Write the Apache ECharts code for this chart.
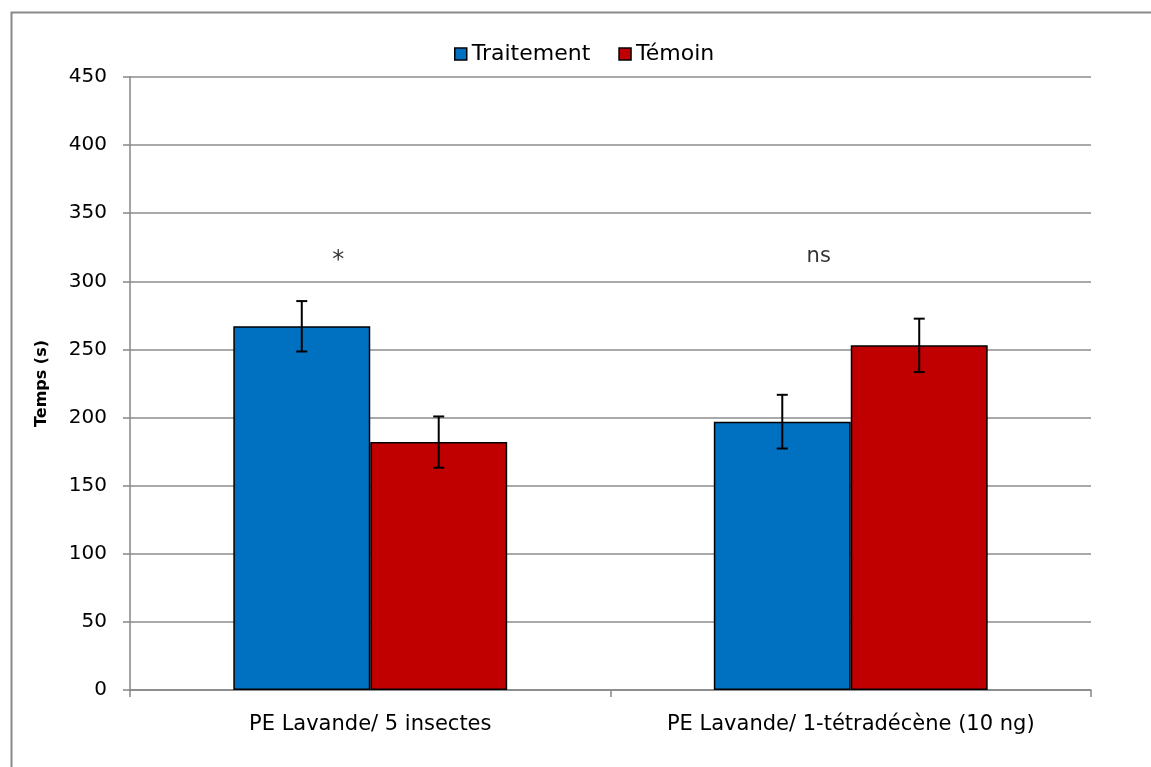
<!DOCTYPE html>
<html>
<head>
<meta charset="utf-8">
<script src="https://cdn.jsdelivr.net/npm/echarts@6/dist/echarts.min.js"></script>
<style>html,body{margin:0;padding:0;background:#fff;}#c{width:1151px;height:767px;}</style>
</head>
<body>
<div id="c"></div>
<script>
const categories = ['PE Lavande/ 5 insectes', 'PE Lavande/ 1-tétradécène (10 ng)'];
const traitement = [267, 197];
const temoin = [182, 253];
const traitementErr = [18.5, 19.7];
const temoinErr = [18.8, 19.6];
const annotations = ['*', 'ns'];
const annotationY = [318, 318];
const yTicks = [0, 50, 100, 150, 200, 250, 300, 350, 400, 450];

const FONT = 'DejaVu Sans';
const chart = echarts.init(document.getElementById('c'));

function errorSeries(name, values, errs, seriesIndex) {
  return {
    type: 'custom',
    name: name + ' err',
    z: 10,
    silent: true,
    tooltip: {show: false},
    data: values.map((v, i) => [i, v - errs[i], v + errs[i]]),
    renderItem: function (params, api) {
      const cat = api.value(0);
      const lo = api.coord([cat, api.value(1)]);
      const hi = api.coord([cat, api.value(2)]);
      const bw = api.size([1, 0])[0];
      const barW = bw * 0.57 / 2;
      const x = lo[0] + (seriesIndex === 0 ? -barW / 2 : barW / 2);
      const cap = 5.5;
      const style = {stroke: '#000', lineWidth: 2};
      return {
        type: 'group',
        children: [
          {type: 'line', shape: {x1: x, y1: lo[1], x2: x, y2: hi[1]}, style: style},
          {type: 'line', shape: {x1: x - cap, y1: lo[1], x2: x + cap, y2: lo[1]}, style: style},
          {type: 'line', shape: {x1: x - cap, y1: hi[1], x2: x + cap, y2: hi[1]}, style: style}
        ]
      };
    }
  };
}

chart.setOption({
  backgroundColor: '#fff',
  animation: false,
  textStyle: {fontFamily: FONT},
  graphic: [{
    type: 'rect',
    left: 9, top: 10,
    shape: {width: 1300, height: 900},
    style: {fill: 'none', stroke: '#898989', lineWidth: 2},
    silent: true
  }],
  legend: {
    top: 38,
    left: 449,
    itemWidth: 12,
    itemHeight: 12,
    itemGap: 28,
    icon: 'rect',
    textStyle: {fontFamily: FONT, fontSize: 22, color: '#000'},
    data: [
      {name: 'Traitement', itemStyle: {borderColor: '#000', borderWidth: 1.5}},
      {name: 'Témoin', itemStyle: {borderColor: '#000', borderWidth: 1.5}}
    ]
  },
  grid: {left: 130, right: 60, top: 77, bottom: 77},
  xAxis: {
    type: 'category',
    data: categories,
    axisLine: {lineStyle: {color: '#868686', width: 1.5}},
    axisTick: {show: true, length: 7, lineStyle: {color: '#868686', width: 1.5}},
    axisLabel: {fontFamily: FONT, fontSize: 21, color: '#000', margin: 24}
  },
  yAxis: {
    type: 'value',
    min: 0, max: 450, interval: 50,
    name: 'Temps (s)',
    nameLocation: 'middle',
    nameGap: 80,
    nameTextStyle: {fontFamily: FONT, fontSize: 16, fontWeight: 'bold', color: '#000'},
    axisLine: {show: true, lineStyle: {color: '#868686', width: 1.5}},
    axisTick: {show: true, length: 7, lineStyle: {color: '#868686', width: 1.5}},
    axisLabel: {fontFamily: FONT, fontSize: 20, color: '#000', margin: 23,
      formatter: v => yTicks.includes(v) ? String(v) : ''},
    splitLine: {lineStyle: {color: '#8c8c8c', width: 1.5}}
  },
  series: [
    {
      name: 'Traitement', type: 'bar', data: traitement,
      barGap: '0%', barCategoryGap: '43%',
      itemStyle: {color: '#0070c0', borderColor: '#000', borderWidth: 1.5}
    },
    {
      name: 'Témoin', type: 'bar', data: temoin,
      itemStyle: {color: '#c00000', borderColor: '#000', borderWidth: 1.5}
    },
    errorSeries('Traitement', traitement, traitementErr, 0),
    errorSeries('Témoin', temoin, temoinErr, 1),
    {
      type: 'scatter',
      name: 'annot',
      symbolSize: 0,
      silent: true,
      data: annotationY.map((v, i) => [i, v]),
      label: {
        show: true,
        position: 'inside',
        offset: [-32, 0],
        fontFamily: FONT,
        fontSize: 21,
        color: '#000',
        rich: {big: {fontSize: 24, fontFamily: FONT, color: '#000', padding: [8, 0, 0, 0]}},
        formatter: p => p.dataIndex === 0 ? '{big|' + annotations[p.dataIndex] + '}' : annotations[p.dataIndex]
      }
    }
  ]
});
</script>
</body>
</html>
